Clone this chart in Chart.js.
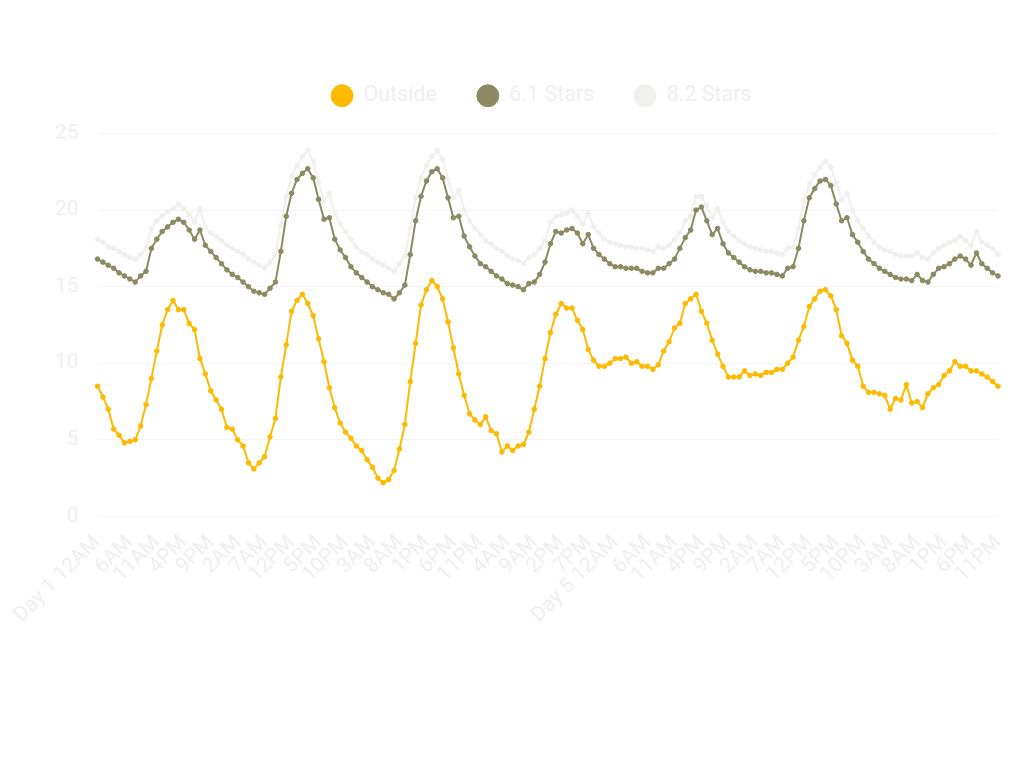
<!DOCTYPE html>
<html>
<head>
<meta charset="utf-8">
<script src="https://cdn.jsdelivr.net/npm/chart.js@4.4.1/dist/chart.umd.min.js"></script>
<style>
  html, body { margin: 0; padding: 0; background: #ffffff; }
  #wrap { width: 1024px; height: 768px; position: relative; }
</style>
</head>
<body>
<div id="wrap"><canvas id="myChart"></canvas></div>
<script>
// hourly temperatures, 7 days x 24 hours
var outside = [
  8.5, 7.8, 7.0, 5.7, 5.3, 4.8, 4.9, 5.0, 5.9, 7.3, 9.0, 10.8, 12.5, 13.5, 14.1, 13.5, 13.5, 12.6, 12.2, 10.3, 9.3, 8.2, 7.6, 7.0,
  5.8, 5.7, 5.0, 4.6, 3.5, 3.1, 3.5, 3.9, 5.2, 6.4, 9.1, 11.2, 13.4, 14.1, 14.5, 13.9, 13.1, 11.6, 10.1, 8.4, 7.1, 6.1, 5.5, 5.1,
  4.6, 4.3, 3.7, 3.2, 2.5, 2.2, 2.4, 3.0, 4.4, 6.0, 8.8, 11.3, 13.8, 14.8, 15.4, 15.0, 14.2, 12.7, 11.0, 9.3, 7.9, 6.7, 6.3, 6.0,
  6.5, 5.6, 5.4, 4.2, 4.6, 4.3, 4.6, 4.7, 5.5, 7.0, 8.5, 10.3, 12.0, 13.2, 13.9, 13.6, 13.6, 12.8, 12.2, 10.9, 10.2, 9.8, 9.8, 10.0,
  10.3, 10.3, 10.4, 10.0, 10.1, 9.8, 9.8, 9.6, 9.9, 10.8, 11.4, 12.3, 12.6, 13.9, 14.2, 14.5, 13.4, 12.6, 11.5, 10.6, 9.8, 9.1, 9.1, 9.1,
  9.5, 9.2, 9.3, 9.2, 9.4, 9.4, 9.6, 9.6, 10.0, 10.4, 11.5, 12.4, 13.7, 14.2, 14.7, 14.8, 14.4, 13.5, 11.8, 11.3, 10.2, 9.8, 8.5, 8.1,
  8.1, 8.0, 7.9, 7.0, 7.7, 7.6, 8.6, 7.4, 7.5, 7.1, 8.0, 8.4, 8.6, 9.2, 9.5, 10.1, 9.8, 9.8, 9.5, 9.5, 9.3, 9.1, 8.8, 8.5
];
var stars61 = [
  16.8, 16.6, 16.4, 16.2, 15.9, 15.7, 15.5, 15.3, 15.7, 16.0, 17.5, 18.1, 18.6, 18.9, 19.2, 19.4, 19.2, 18.7, 18.1, 18.7, 17.7, 17.3, 16.9, 16.5,
  16.1, 15.8, 15.6, 15.3, 15.0, 14.7, 14.6, 14.5, 14.9, 15.3, 17.3, 19.6, 21.1, 22.0, 22.4, 22.7, 22.1, 20.7, 19.4, 19.5, 18.1, 17.4, 16.9, 16.3,
  15.9, 15.6, 15.3, 15.0, 14.8, 14.6, 14.5, 14.2, 14.6, 15.1, 17.1, 19.3, 20.9, 21.9, 22.5, 22.7, 22.1, 20.8, 19.5, 19.6, 18.3, 17.6, 17.0, 16.5,
  16.3, 16.0, 15.7, 15.5, 15.2, 15.1, 15.0, 14.8, 15.2, 15.3, 15.8, 16.6, 17.8, 18.6, 18.5, 18.7, 18.8, 18.5, 17.8, 18.4, 17.5, 17.1, 16.8, 16.5,
  16.3, 16.3, 16.2, 16.2, 16.2, 16.0, 15.9, 15.9, 16.2, 16.2, 16.5, 16.8, 17.5, 18.2, 18.7, 20.0, 20.2, 19.3, 18.4, 18.8, 17.8, 17.2, 16.9, 16.6,
  16.3, 16.1, 16.0, 16.0, 15.9, 15.9, 15.8, 15.7, 16.2, 16.3, 17.5, 19.3, 20.8, 21.4, 21.9, 22.0, 21.6, 20.4, 19.3, 19.5, 18.4, 17.9, 17.3, 16.8,
  16.5, 16.2, 16.0, 15.8, 15.6, 15.5, 15.5, 15.4, 15.8, 15.4, 15.3, 15.8, 16.2, 16.3, 16.5, 16.8, 17.0, 16.8, 16.4, 17.2, 16.5, 16.2, 15.9, 15.7
];
var stars82 = [
  18.1, 17.9, 17.6, 17.5, 17.3, 17.1, 16.9, 16.8, 17.1, 17.5, 18.8, 19.3, 19.6, 19.9, 20.1, 20.4, 20.1, 19.7, 19.2, 20.1, 18.9, 18.5, 18.3, 18.0,
  17.7, 17.5, 17.3, 17.1, 16.8, 16.6, 16.4, 16.2, 16.6, 17.1, 19.0, 20.9, 22.2, 22.9, 23.5, 23.9, 23.2, 21.8, 20.6, 21.1, 19.8, 19.1, 18.6, 18.1,
  17.6, 17.3, 17.1, 16.8, 16.6, 16.4, 16.2, 16.0, 16.5, 17.0, 18.8, 20.8, 22.1, 22.9, 23.5, 23.9, 23.3, 22.0, 20.8, 21.3, 20.0, 19.3, 18.8, 18.4,
  18.0, 17.8, 17.5, 17.3, 17.0, 16.8, 16.7, 16.5, 16.9, 17.1, 17.5, 18.0, 19.2, 19.6, 19.7, 19.8, 20.0, 19.6, 19.1, 19.8, 18.9, 18.5, 18.1, 17.9,
  17.8, 17.7, 17.6, 17.6, 17.5, 17.5, 17.4, 17.3, 17.6, 17.5, 17.7, 18.1, 18.5, 19.3, 19.6, 20.9, 20.9, 20.3, 19.5, 20.1, 19.2, 18.6, 18.3, 18.0,
  17.8, 17.6, 17.5, 17.4, 17.3, 17.3, 17.2, 17.1, 17.5, 17.6, 18.8, 20.6, 21.7, 22.3, 22.8, 23.2, 22.8, 21.8, 20.7, 21.1, 20.0, 19.3, 18.8, 18.3,
  17.9, 17.6, 17.4, 17.3, 17.1, 17.0, 17.0, 17.0, 17.2, 16.9, 16.8, 17.2, 17.5, 17.7, 17.9, 18.0, 18.3, 18.0, 17.7, 18.6, 17.9, 17.7, 17.5, 17.1
];

var hourNames = ['12AM', '1AM', '2AM', '3AM', '4AM', '5AM', '6AM', '7AM', '8AM', '9AM', '10AM', '11AM',
                 '12PM', '1PM', '2PM', '3PM', '4PM', '5PM', '6PM', '7PM', '8PM', '9PM', '10PM', '11PM'];
var dayCount = 7;
// which category labels are printed on the x axis
var shownTicks = [0, 6, 11, 16, 21, 26, 31, 36, 41, 46, 51, 56, 61, 66, 71, 76, 81, 86, 91,
                  96, 102, 107, 112, 117, 122, 127, 132, 137, 142, 147, 152, 157, 162, 167];

var labels = [];
for (var d = 0; d < dayCount; d++) {
  for (var h = 0; h < 24; h++) {
    labels.push(h === 0 ? 'Day ' + (d + 1) + ' 12AM' : hourNames[h]);
  }
}

Chart.defaults.font.family = 'Roboto';
Chart.defaults.color = '#efefef';

var textColor = '#efefef';
var gridColor = '#f4f4f4';

function line(label, data, color) {
  return {
    label: label,
    data: data,
    borderColor: color,
    backgroundColor: color,
    pointBackgroundColor: color,
    pointBorderColor: color,
    borderWidth: 2,
    pointRadius: 2.3,
    pointBorderWidth: 1,
    tension: 0,
    fill: false
  };
}

// extra room under the legend, and nudge it right a bit
var legendTweak = {
  id: 'legendTweak',
  beforeInit: function (chart) {
    var fit = chart.legend.fit;
    chart.legend.fit = function () {
      fit.bind(chart.legend)();
      this.height += 17;
    };
  },
  afterLayout: function (chart) {
    chart.legend.left += 30;
  }
};

var ctx = document.getElementById('myChart').getContext('2d');
var chart = new Chart(ctx, {
  type: 'line',
  data: {
    labels: labels,
    datasets: [
      line('Outside', outside, '#fdba00'),
      line('6.1 Stars', stars61, '#8c8a63'),
      line('8.2 Stars', stars82, '#f0f0ee')
    ]
  },
  plugins: [legendTweak],
  options: {
    responsive: true,
    maintainAspectRatio: false,
    animation: false,
    layout: {
      padding: { top: 45, left: 55, right: 26, bottom: 134 }
    },
    plugins: {
      legend: {
        labels: {
          usePointStyle: true,
          pointStyle: 'circle',
          boxWidth: 21.5,
          boxHeight: 15.5,
          padding: 40,
          color: textColor,
          font: { size: 21.5 }
        }
      },
      tooltip: { enabled: false }
    },
    scales: {
      x: {
        afterFit: function (scale) { scale.paddingRight = 20; },
        grid: { display: false },
        border: { display: false },
        ticks: {
          autoSkip: false,
          minRotation: 45,
          maxRotation: 45,
          padding: 6,
          color: textColor,
          font: { size: 21 },
          callback: function (value, index) {
            return shownTicks.indexOf(index) >= 0 ? this.getLabelForValue(value) : '';
          }
        }
      },
      y: {
        min: 0,
        max: 25,
        afterFit: function (scale) { scale.width = 42.5; },
        grid: { color: gridColor, drawTicks: false },
        border: { display: false },
        ticks: {
          stepSize: 5,
          padding: 19,
          color: textColor,
          font: { size: 21 }
        }
      }
    }
  }
});
</script>
</body>
</html>
